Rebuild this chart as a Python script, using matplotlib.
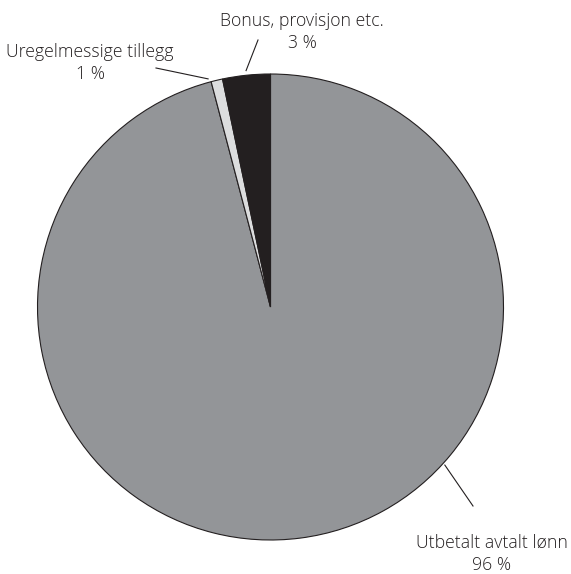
import matplotlib
matplotlib.use("Agg")
import matplotlib.pyplot as plt
import numpy as np

# Data
categories = ["Utbetalt avtalt lønn", "Uregelmessige tillegg", "Bonus, provisjon etc."]
values = [95.9, 0.8, 3.3]
value_labels = ["96 %", "1 %", "3 %"]

colors = ["#939598", "#dcddde", "#231f20"]

W, H = 571, 574
fig = plt.figure(figsize=(W / 100, H / 100), dpi=100)
ax = fig.add_axes([0, 0, 1, 1])

cx, cy, R = 270.5, H - 307, 233
wedges, _ = ax.pie(values, colors=colors, startangle=90, counterclock=False,
                   center=(cx, cy), radius=R, frame=True,
                   wedgeprops=dict(edgecolor="#231f20", linewidth=0.8))
ax.set_xlim(0, W)
ax.set_ylim(0, H)
ax.set_aspect("equal")
ax.axis("off")

# leader lines: (start angle deg, start radius factor) -> end point (px), label pos (px)
layout = [
    dict(a0=-42.2, r0=1.01, end=(473, 506), text=(492, 554)),
    dict(a0=105.3, r0=1.015, end=(156, 68), text=(90, 63)),
    dict(a0=95.9, r0=1.02, end=(258, 40), text=(302, 32)),
]
for cat, lab, L in zip(categories, value_labels, layout):
    a = np.deg2rad(L["a0"])
    x0 = cx + R * L["r0"] * np.cos(a)
    y0 = cy + R * L["r0"] * np.sin(a)
    ax.plot([x0, L["end"][0]], [y0, H - L["end"][1]], color="#231f20", lw=0.8)
    ax.text(L["text"][0], H - L["text"][1], f"{cat}\n{lab}", ha="center", va="center",
            fontsize=12.7, family="Open Sans", fontweight="light", color="#231f20",
            linespacing=1.3)

fig.savefig("out.png", dpi=100)
